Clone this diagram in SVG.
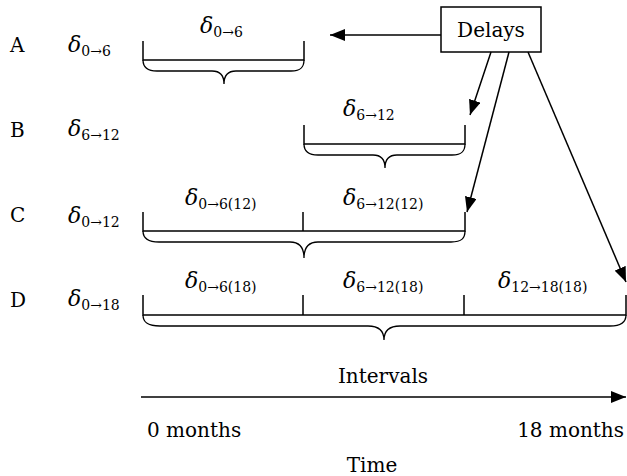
<svg xmlns="http://www.w3.org/2000/svg" width="627" height="476" viewBox="0 0 627 476">
<style>
text{font-family:"DejaVu Serif","Liberation Serif",serif;fill:#000}
.t{font-size:20px}
.d{font-size:22px;font-style:italic}
.s{font-size:14px}
.ln{fill:none;stroke:#000;stroke-width:1.5}
.br{fill:none;stroke:#000;stroke-width:1.3}
</style>
<defs>
<marker id="ah" markerUnits="userSpaceOnUse" markerWidth="16" markerHeight="12" refX="15" refY="6" orient="auto">
<path d="M0,0 L15,6 L0,12 Z" fill="#000"/>
</marker>
</defs>
<rect width="627" height="476" fill="#fff"/>

<g id="rowA">
<text class="t" x="10" y="52">A</text>
<text x="68" y="52"><tspan class="d">δ</tspan><tspan class="s" dy="4">0→6</tspan></text>
<text x="200" y="33"><tspan class="d">δ</tspan><tspan class="s" dy="4">0→6</tspan></text>
<path class="ln" d="M143,41 V60 H304 V41"/>
<path class="br" d="M143,60 C143,67 147,71 157,71 L212,71 C220,71 224,75 224,84 C224,75 228,71 236,71 L291,71 C301,71 304,67 304,60"/>
</g>

<g id="rowB">
<text class="t" x="10" y="137">B</text>
<text x="68" y="136"><tspan class="d">δ</tspan><tspan class="s" dy="4">6→12</tspan></text>
<text x="343" y="116"><tspan class="d">δ</tspan><tspan class="s" dy="4">6→12</tspan></text>
<path class="ln" d="M304,125 V144 H465 V125"/>
<path class="br" d="M304,144 C304,151 308,155 318,155 L373,155 C381,155 385,159 385,168 C385,159 389,155 397,155 L452,155 C462,155 465,151 465,144"/>
</g>

<g id="rowC">
<text class="t" x="10" y="222">C</text>
<text x="68" y="223"><tspan class="d">δ</tspan><tspan class="s" dy="4">0→12</tspan></text>
<text x="185" y="205"><tspan class="d">δ</tspan><tspan class="s" dy="4">0→6(12)</tspan></text>
<text x="343" y="205"><tspan class="d">δ</tspan><tspan class="s" dy="4">6→12(12)</tspan></text>
<path class="ln" d="M143,212 V231 H465 V212 M303,212 V231"/>
<path class="br" d="M143,231 C143,238 147,242 159,242 L290,242 C299,242 304,247 304,258 C304,247 309,242 318,242 L451,242 C462,242 465,238 465,231"/>
</g>

<g id="rowD">
<text class="t" x="10" y="307">D</text>
<text x="68" y="306"><tspan class="d">δ</tspan><tspan class="s" dy="4">0→18</tspan></text>
<text x="185" y="288"><tspan class="d">δ</tspan><tspan class="s" dy="4">0→6(18)</tspan></text>
<text x="343" y="288"><tspan class="d">δ</tspan><tspan class="s" dy="4">6→12(18)</tspan></text>
<text x="498" y="288"><tspan class="d">δ</tspan><tspan class="s" dy="4">12→18(18)</tspan></text>
<path class="ln" d="M143,295 V315 H626 V295 M303,295 V315 M464,295 V315"/>
<path class="br" d="M143,315 C143,322 147,326 160,326 L368,326 C378,326 384,330 384,340 C384,330 390,326 400,326 L610,326 C622,326 626,322 626,315"/>
</g>

<g id="delays">
<rect x="441" y="7" width="100" height="45" fill="#fff" stroke="#000" stroke-width="1.5"/>
<text class="t" x="491" y="37" text-anchor="middle">Delays</text>
</g>

<g id="axis">
<text class="t" x="383" y="383" text-anchor="middle">Intervals</text>
<text class="t" x="147" y="437">0 months</text>
<text class="t" x="624" y="437" text-anchor="end">18 months</text>
<text class="t" x="372" y="472" text-anchor="middle">Time</text>
</g>

<g id="connectors">
<line class="ln" x1="441" y1="35" x2="330" y2="35" marker-end="url(#ah)"/>
<line class="ln" x1="491" y1="52" x2="470" y2="115" marker-end="url(#ah)"/>
<line class="ln" x1="509" y1="52" x2="467" y2="212" marker-end="url(#ah)"/>
<line class="ln" x1="528" y1="52" x2="626" y2="282" marker-end="url(#ah)"/>
<line class="ln" x1="141" y1="397" x2="626" y2="397" marker-end="url(#ah)"/>
</g>
</svg>
